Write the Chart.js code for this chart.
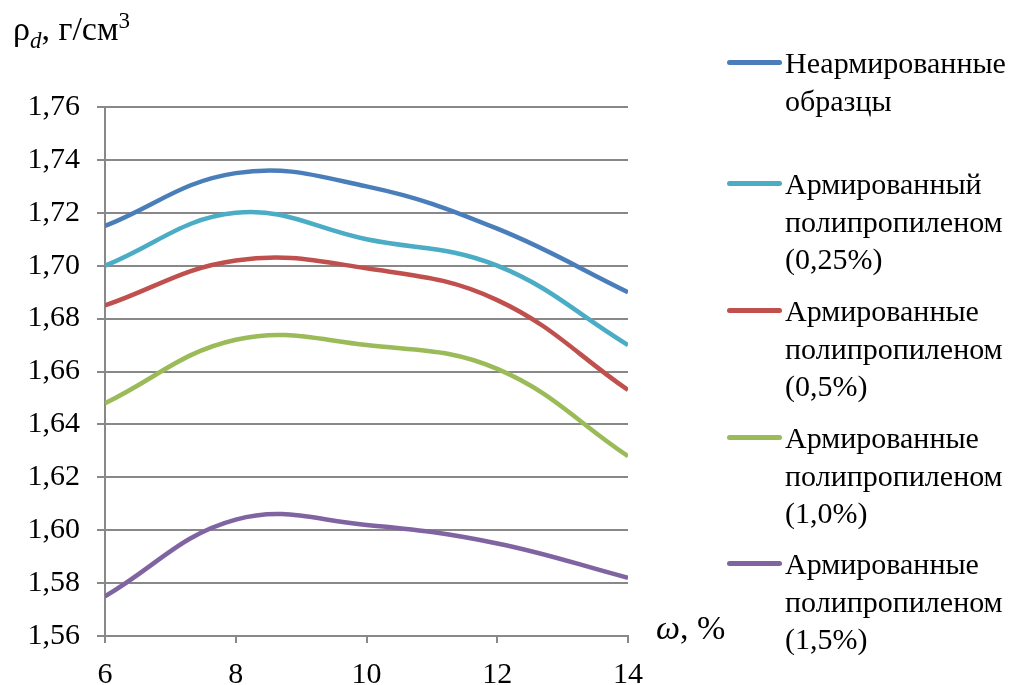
<!DOCTYPE html>
<html>
<head>
<meta charset="utf-8">
<script src="https://cdn.jsdelivr.net/npm/chart.js@4/dist/chart.umd.min.js"></script>
<style>
  body { margin: 0; background: #fff; font-family: "Liberation Serif", serif; }
  #wrap { position: relative; width: 1021px; height: 685px; }
  #yTitle { position: absolute; left: 13px; top: 8px; font-size: 34px; }
  #xTitle { position: absolute; left: 656px; top: 609px; font-size: 34px; }
  #legend { position: absolute; left: 727px; top: 0; }
  .item { position: absolute; left: 0; width: 300px; font-size: 30px; line-height: 37.5px; }
  .item .mk { position: absolute; left: 0; top: 16px; width: 55px; height: 5px; border-radius: 3px; }
  .item .tx { position: absolute; left: 58px; top: 0; white-space: nowrap; }
</style>
</head>
<body>
<div id="wrap">
  <canvas id="chart" width="1021" height="685"></canvas>
  <div id="yTitle">ρ<sub style="font-size:23px;font-style:italic;">d</sub>, г/см<sup style="font-size:23px;">3</sup></div>
  <div id="xTitle"><i>ω</i>, %</div>
  <div id="legend"></div>
</div>
<script>
// moisture, %
const moisture = [6, 8, 10, 12, 14];

const unreinforced = [1.715, 1.735, 1.730, 1.714, 1.690];
const pp025 = [1.700, 1.720, 1.710, 1.700, 1.670];
const pp05 = [1.685, 1.702, 1.699, 1.687, 1.653];
const pp10 = [1.648, 1.672, 1.670, 1.661, 1.628];
const pp15 = [1.575, 1.604, 1.602, 1.595, 1.582];

const seriesNames = [
  ["Неармированные", "образцы"],
  ["Армированный", "полипропиленом", "(0,25%)"],
  ["Армированные", "полипропиленом", "(0,5%)"],
  ["Армированные", "полипропиленом", "(1,0%)"],
  ["Армированные", "полипропиленом", "(1,5%)"]
];
const seriesColors = ["#4A7EBB", "#4BACC6", "#C0504D", "#9BBB59", "#8064A2"];
const legendTops = [44, 165, 292, 419, 545];

const yTicks = [1.56, 1.58, 1.60, 1.62, 1.64, 1.66, 1.68, 1.70, 1.72, 1.74, 1.76];
const xTicks = [6, 8, 10, 12, 14];

const allSeries = [unreinforced, pp025, pp05, pp10, pp15];

const datasets = allSeries.map((vals, i) => ({
  label: seriesNames[i].join(" "),
  data: vals.map((v, j) => ({ x: moisture[j], y: v })),
  borderColor: seriesColors[i],
  borderWidth: 4.5,
  pointRadius: 0,
  tension: 0.4,
  fill: false
}));

// legend as html
const legend = document.getElementById("legend");
seriesNames.forEach((lines, i) => {
  const d = document.createElement("div");
  d.className = "item";
  d.style.top = legendTops[i] + "px";
  d.innerHTML = `<div class="mk" style="background:${seriesColors[i]}"></div><div class="tx">${lines.join("<br>")}</div>`;
  legend.appendChild(d);
});

const serif = "'Liberation Serif', serif";

new Chart(document.getElementById("chart"), {
  type: "line",
  data: { datasets: datasets },
  options: {
    responsive: false,
    animation: false,
    layout: { padding: { top: 107, right: 393, left: 0, bottom: 0 } },
    plugins: { legend: { display: false }, tooltip: { enabled: false } },
    scales: {
      x: {
        type: "linear",
        min: 6, max: 14,
        afterBuildTicks: (s) => { s.ticks = xTicks.map(v => ({ value: v })); },
        afterFit: (s) => { s.height = 49; },
        grid: { drawOnChartArea: false, drawTicks: true, tickLength: 7, color: "#888", lineWidth: 2 },
        border: { color: "#888", width: 2 },
        ticks: { color: "#000", font: { family: serif, size: 30 }, padding: 14, maxRotation: 0 }
      },
      y: {
        min: 1.56, max: 1.76,
        afterBuildTicks: (s) => { s.ticks = yTicks.map(v => ({ value: v })); },
        afterFit: (s) => { s.width = 105; },
        grid: { color: "#888", lineWidth: 2, tickLength: 8 },
        border: { color: "#888", width: 2 },
        ticks: {
          color: "#000",
          font: { family: serif, size: 30 },
          padding: 17,
          callback: (v) => v.toFixed(2).replace(".", ",")
        }
      }
    }
  }
});
</script>
</body>
</html>
